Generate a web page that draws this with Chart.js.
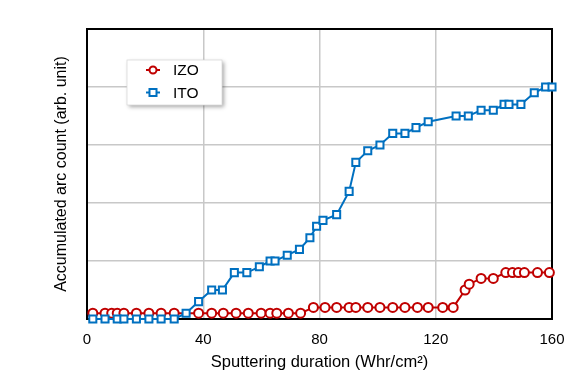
<!DOCTYPE html>
<html><head><meta charset="utf-8">
<script src="https://cdn.jsdelivr.net/npm/chart.js@4/dist/chart.umd.min.js"></script>
<style>html,body{margin:0;padding:0;background:#fff;}</style>
</head><body>
<canvas id="c" width="582" height="378"></canvas>
<script>
const seriesNames = ["IZO", "ITO"];
const izoX = [2.0, 6.2, 8.5, 10.4, 12.7, 17.0, 21.3, 25.5, 30.0, 38.4, 42.9, 46.9, 51.3, 55.5, 59.9, 63.0, 65.3, 69.3, 73.5, 77.9, 81.9, 85.9, 90.2, 92.5, 96.6, 100.8, 105.2, 109.4, 113.7, 117.4, 122.4, 126.0, 130.1, 131.5, 135.6, 139.8, 144.1, 146.4, 148.4, 150.5, 155.0, 159.1];
const izoY = [0.1, 0.1, 0.1, 0.1, 0.1, 0.1, 0.1, 0.1, 0.1, 0.1, 0.1, 0.1, 0.1, 0.1, 0.1, 0.1, 0.1, 0.1, 0.1, 0.2, 0.2, 0.2, 0.2, 0.2, 0.2, 0.2, 0.2, 0.2, 0.2, 0.2, 0.2, 0.2, 0.5, 0.6, 0.7, 0.7, 0.8, 0.8, 0.8, 0.8, 0.8, 0.8];
const itoX = [2.0, 6.2, 10.4, 12.7, 17.0, 21.3, 25.5, 30.0, 34.1, 38.4, 42.9, 46.6, 50.7, 55.0, 59.3, 63.0, 64.7, 68.9, 73.1, 76.7, 79.0, 81.2, 85.9, 90.2, 92.5, 96.6, 100.8, 105.2, 109.4, 113.2, 117.4, 127.0, 131.2, 135.6, 139.8, 143.5, 145.2, 149.3, 153.9, 157.8, 160.0];
const itoY = [0, 0, 0, 0, 0, 0, 0, 0, 0.1, 0.3, 0.5, 0.5, 0.8, 0.8, 0.9, 1.0, 1.0, 1.1, 1.2, 1.4, 1.6, 1.7, 1.8, 2.2, 2.7, 2.9, 3.0, 3.2, 3.2, 3.3, 3.4, 3.5, 3.5, 3.6, 3.6, 3.7, 3.7, 3.7, 3.9, 4.0, 4.0];
const xTicks = [0, 40, 80, 120, 160];
const xTitle = "Sputtering duration (Whr/cm²)";
const yTitle = "Accumulated arc count (arb. unit)";

const RED = "#c00000", BLUE = "#0070c0";
const FONT = "'Liberation Sans', Arial, sans-serif";

function pts(xs, ys) { return xs.map((x, i) => ({x: x, y: ys[i]})); }

const frame = {
  id: 'frame',
  beforeDatasetsDraw(chart) {
    const a = chart.chartArea, ctx = chart.ctx;
    ctx.save();
    ctx.strokeStyle = '#000';
    ctx.lineWidth = 2;
    ctx.strokeRect(a.left, a.top, a.right - a.left, a.bottom - a.top);
    ctx.restore();
  }
};

const legendBox = {
  id: 'legendBox',
  afterDraw(chart) {
    const ctx = chart.ctx, a = chart.chartArea;
    const x0 = a.left + 40, y0 = a.top + 31, w = 95, h = 45;
    ctx.save();
    ctx.shadowColor = 'rgba(0,0,0,0.35)';
    ctx.shadowBlur = 4; ctx.shadowOffsetX = 2; ctx.shadowOffsetY = 2;
    ctx.fillStyle = '#fff';
    ctx.fillRect(x0, y0, w, h);
    ctx.restore();
    ctx.save();
    ctx.strokeStyle = '#d9d9d9'; ctx.lineWidth = 0.8;
    ctx.strokeRect(x0, y0, w, h);
    chart.data.datasets.forEach((ds, i) => {
      const cy = y0 + 10 + i * 22.5;
      const lx = x0 + 19, mx = x0 + 26;
      ctx.strokeStyle = ds.borderColor; ctx.lineWidth = 2;
      ctx.beginPath(); ctx.moveTo(lx, cy); ctx.lineTo(lx + 14, cy); ctx.stroke();
      ctx.fillStyle = '#fff';
      if (ds.pointStyle === 'rect') {
        ctx.fillRect(mx - 3.5, cy - 3.5, 7, 7); ctx.strokeRect(mx - 3.5, cy - 3.5, 7, 7);
      } else {
        ctx.beginPath(); ctx.arc(mx, cy, 3.5, 0, Math.PI * 2); ctx.fill(); ctx.stroke();
      }
      ctx.fillStyle = '#000';
      ctx.font = '15.5px ' + FONT;
      ctx.textBaseline = 'middle';
      ctx.fillText(ds.label, x0 + 46, cy + 1);
    });
    ctx.restore();
  }
};

new Chart(document.getElementById('c'), {
  type: 'line',
  data: {
    datasets: [
      { label: seriesNames[0], data: pts(izoX, izoY), borderColor: RED, backgroundColor: '#fff',
        borderWidth: 2, pointStyle: 'circle', pointRadius: 4.5, pointBorderWidth: 2,
        pointBackgroundColor: '#fff', pointBorderColor: RED, clip: false, order: 2 },
      { label: seriesNames[1], data: pts(itoX, itoY), borderColor: BLUE, backgroundColor: '#fff',
        borderWidth: 2, pointStyle: 'rect', pointRadius: 5, pointBorderWidth: 2,
        pointBackgroundColor: '#fff', pointBorderColor: BLUE, clip: false, order: 1 }
    ]
  },
  options: {
    responsive: false, animation: false,
    layout: { padding: { left: 0, right: 30, top: 29, bottom: 0 } },
    plugins: { legend: { display: false }, tooltip: { enabled: false } },
    scales: {
      x: {
        type: 'linear', min: 0, max: 160,
        afterBuildTicks: s => { s.ticks = xTicks.map(v => ({value: v})); },
        afterFit: s => { s.height = 59; },
        ticks: { color: '#000', font: { family: FONT, size: 15 }, padding: 12, maxRotation: 0 },
        grid: { color: '#c8c8c8', lineWidth: 1.5, drawTicks: false },
        border: { display: false },
        title: { display: true, text: xTitle, color: '#000', font: { family: FONT, size: 16.5 }, padding: { top: 0, bottom: 6 } }
      },
      y: {
        min: 0, max: 5,
        ticks: { display: false, stepSize: 1 },
        afterFit: s => { s.width = 87; },
        grid: { color: '#c8c8c8', lineWidth: 1.5, drawTicks: false },
        border: { display: false },
        title: { display: true, text: yTitle, color: '#000', font: { family: FONT, size: 16 }, padding: { top: 52, bottom: 0 } }
      }
    }
  },
  plugins: [frame, legendBox]
});
</script>
</body></html>
